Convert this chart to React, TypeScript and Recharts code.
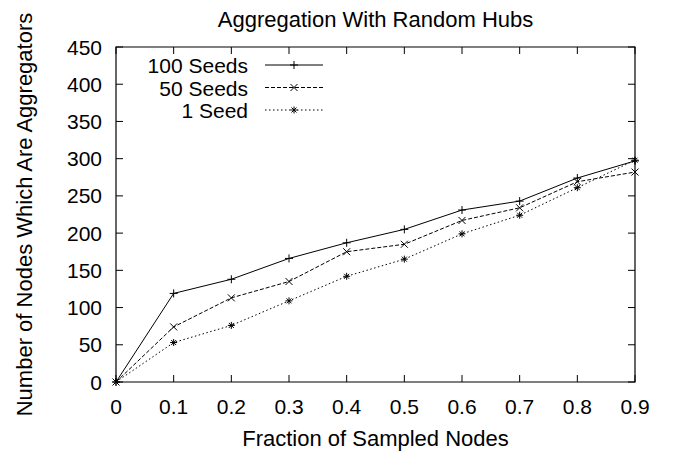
import { LineChart, Line, XAxis, YAxis, ReferenceArea } from 'recharts';

const fractions = [0, 0.1, 0.2, 0.3, 0.4, 0.5, 0.6, 0.7, 0.8, 0.9];
const seeds100 = [0, 119, 138, 166, 187, 205, 231, 243, 274, 297];
const seeds50 = [0, 74, 113, 135, 175, 185, 217, 234, 269, 282];
const seed1 = [0, 53, 76, 109, 142, 165, 199, 224, 261, 298];
const yTicks = [0, 50, 100, 150, 200, 250, 300, 350, 400, 450];
const seriesNames = ['100 Seeds', '50 Seeds', '1 Seed'];

const chartData = fractions.map((f, i) => ({
    frac: f,
    s100: seeds100[i],
    s50: seeds50[i],
    s1: seed1[i],
}));

const W = 681;
const H = 453;
const TOP = 47;
const BOTTOM = 382;
const LEFT = 116;
const RIGHT = 635;
const TICK = 7;
const FONT = '"Liberation Sans", Arial, Helvetica, sans-serif';
const INK = '#000';

type Marker = 'plus' | 'cross' | 'star';

const markerPath = (kind: Marker, x: number, y: number) => {
    const p = `M${x - 4},${y}L${x + 4},${y}M${x},${y - 4}L${x},${y + 4}`;
    const c = `M${x - 3.5},${y - 3.5}L${x + 3.5},${y + 3.5}M${x - 3.5},${y + 3.5}L${x + 3.5},${y - 3.5}`;
    if (kind === 'plus') return p;
    if (kind === 'cross') return c;
    const p2 = `M${x - 3.5},${y}L${x + 3.5},${y}M${x},${y - 3.5}L${x},${y + 3.5}`;
    const c2 = `M${x - 2.5},${y - 2.5}L${x + 2.5},${y + 2.5}M${x - 2.5},${y + 2.5}L${x + 2.5},${y - 2.5}`;
    return p2 + c2;
};

const makeDot = (kind: Marker) => (props: any) => {
    const { cx, cy, index } = props;
    if (cx == null || cy == null) return <g key={`d-${kind}-${index}`} />;
    return (
        <path
            key={`d-${kind}-${index}`}
            d={markerPath(kind, cx, cy)}
            stroke={INK}
            strokeWidth={1}
            fill="none"
        />
    );
};

const styles: { key: string; dash?: string; marker: Marker }[] = [
    { key: 's100', marker: 'plus' },
    { key: 's50', dash: '4 2', marker: 'cross' },
    { key: 's1', dash: '1.5 2.5', marker: 'star' },
];

const XTick = (props: any) => {
    const { x, payload } = props;
    return (
        <g>
            <line x1={x} x2={x} y1={BOTTOM} y2={BOTTOM - TICK} stroke={INK} />
            <line x1={x} x2={x} y1={TOP} y2={TOP + TICK} stroke={INK} />
            <text x={x} y={BOTTOM + 32} textAnchor="middle" fontSize={21} fontFamily={FONT} fill={INK}>
                {payload.value}
            </text>
        </g>
    );
};

const YTick = (props: any) => {
    const { y, payload } = props;
    return (
        <g>
            <line x1={LEFT} x2={LEFT + TICK} y1={y} y2={y} stroke={INK} />
            <line x1={RIGHT} x2={RIGHT - TICK} y1={y} y2={y} stroke={INK} />
            <text x={102} y={y + 7.5} textAnchor="end" fontSize={21} fontFamily={FONT} fill={INK}>
                {payload.value}
            </text>
        </g>
    );
};

export default function App() {
    return (
        <div style={{ position: 'absolute', left: 0, top: 0, width: W, height: H, background: '#fff' }}>
            <LineChart
                width={W}
                height={H}
                data={chartData}
                margin={{ top: TOP, right: W - RIGHT, bottom: 31, left: 56 }}
            >
                <XAxis
                    dataKey="frac"
                    type="number"
                    domain={[0, 0.9]}
                    ticks={fractions}
                    height={40}
                    axisLine={false}
                    tickLine={false}
                    tick={<XTick />}
                    interval={0}
                />
                <YAxis
                    type="number"
                    domain={[0, 450]}
                    ticks={yTicks}
                    width={60}
                    axisLine={false}
                    tickLine={false}
                    tick={<YTick />}
                    interval={0}
                />
                <ReferenceArea x1={0} x2={0.9} y1={0} y2={450} fill="none" stroke={INK} strokeWidth={1.2} />
                {styles.map((s, i) => (
                    <Line
                        key={s.key}
                        type="linear"
                        dataKey={s.key}
                        name={seriesNames[i]}
                        stroke={INK}
                        strokeWidth={1}
                        strokeDasharray={s.dash}
                        dot={makeDot(s.marker)}
                        activeDot={false}
                        isAnimationActive={false}
                    />
                ))}
            </LineChart>
            <svg
                width={W}
                height={H}
                style={{ position: 'absolute', left: 0, top: 0, pointerEvents: 'none' }}
                fontFamily={FONT}
                fill={INK}
            >
                <text x={(LEFT + RIGHT) / 2} y={27} textAnchor="middle" fontSize={22}>
                    Aggregation With Random Hubs
                </text>
                <text x={(LEFT + RIGHT) / 2} y={446} textAnchor="middle" fontSize={22}>
                    Fraction of Sampled Nodes
                </text>
                <text
                    transform={`translate(32, ${(TOP + BOTTOM) / 2}) rotate(-90)`}
                    textAnchor="middle"
                    fontSize={22}
                >
                    Number of Nodes Which Are Aggregators
                </text>
                {seriesNames.map((name, i) => {
                    const y = 65 + i * 22.5;
                    const st = styles[i];
                    return (
                        <g key={name}>
                            <text x={248} y={y + 8} textAnchor="end" fontSize={21}>
                                {name}
                            </text>
                            <line
                                x1={265}
                                x2={323}
                                y1={y}
                                y2={y}
                                stroke={INK}
                                strokeWidth={1}
                                strokeDasharray={st.dash}
                            />
                            <path d={markerPath(st.marker, 294, y)} stroke={INK} strokeWidth={1} fill="none" />
                        </g>
                    );
                })}
            </svg>
        </div>
    );
}
